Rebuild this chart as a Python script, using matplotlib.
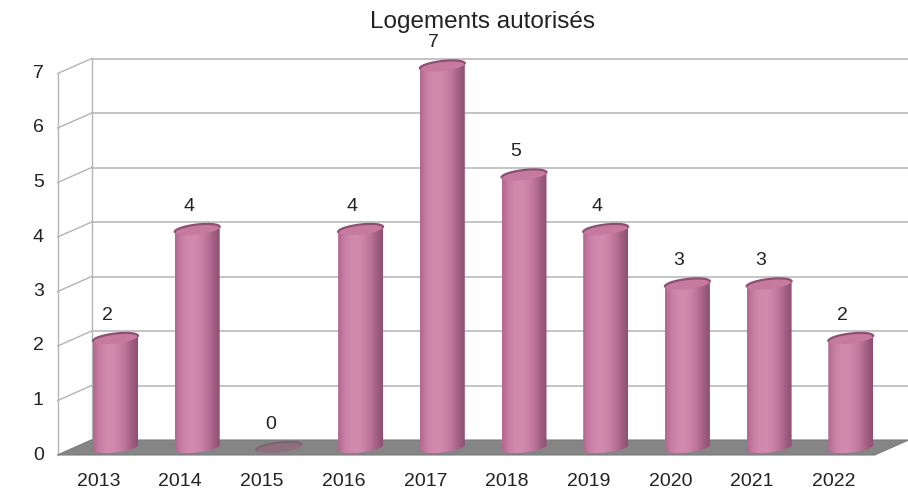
# Logements autorisés - pseudo 3D cylinder bars (LibreOffice style)
import matplotlib
matplotlib.use("Agg")
import matplotlib.pyplot as plt
import numpy as np
from matplotlib.colors import LinearSegmentedColormap
from matplotlib.patches import Polygon

years = ['2013', '2014', '2015', '2016', '2017', '2018', '2019', '2020', '2021', '2022']
logements = [2, 4, 0, 4, 7, 5, 4, 3, 3, 2]
yticks = [0, 1, 2, 3, 4, 5, 6, 7]
title = "Logements autorisés"

plt.rcParams['font.family'] = ['Liberation Sans', 'DejaVu Sans']

# pixel layout -> data units (1 category = 81.7 px, 1 unit = 54.5 px)
px_cat = 81.7
px_val = 54.5
x0_px = 98.5     # front centre of first category
y0_px = 455.0    # front floor line
DX = 34 / px_cat   # depth offset of back wall
DY = 15 / px_val
bar_w = 45 / px_cat
cap_h = 5 / px_val
cap_tilt = 2.5 / px_val
fs = 14

fig = plt.figure(figsize=(9.08, 4.91), dpi=100)
ax = fig.add_axes([0, 0, 1, 1])
ax.set_xlim(-x0_px / px_cat, (908 - x0_px) / px_cat)
ax.set_ylim((y0_px - 491) / px_val, y0_px / px_val)
ax.axis('off')

n = len(years)
left, right = -0.5, n - 0.5
grid_col = '#b4b4b4'

# back wall + side wall lines
for k in yticks:
    if k > 0:
        ax.plot([left + DX, right + DX], [k + DY, k + DY], color=grid_col, lw=1.1, zorder=1)
    ax.plot([left, left + DX], [k, k + DY], color=grid_col, lw=1.0, zorder=1)
ax.plot([left, left], [0, max(yticks)], color=grid_col, lw=1.0, zorder=1)
ax.plot([left + DX, left + DX], [DY, max(yticks) + DY], color=grid_col, lw=1.0, zorder=1)
ax.plot([right + DX, right + DX], [DY, max(yticks) + DY], color='#dddddd', lw=1.0, zorder=1)

# floor
floor = Polygon([(left, 0), (right, 0), (right + DX, DY), (left + DX, DY)],
                closed=True, facecolor='#858585', edgecolor='#7c7c7c', lw=0.8, zorder=2)
ax.add_patch(floor)

cyl_cmap = LinearSegmentedColormap.from_list(
    'cyl', ['#b4668e', '#c87ea4', '#d088ad', '#d28aae', '#cc82a8', '#bd749a', '#a36084', '#8c5070'])
grad = np.linspace(0, 1, 200).reshape(1, -1)
t = np.linspace(0, 2 * np.pi, 120)
tb = np.linspace(np.pi, 2 * np.pi, 60)
tt = np.linspace(0, np.pi, 60)

for i, v in enumerate(logements):
    cx = i + DX / 2
    base = DY / 2
    top = v + DY / 2
    hw = bar_w / 2
    if v > 0:
        # body outline: bottom half ellipse then straight up to the top
        bx = cx + hw * np.cos(tb)
        by = base + cap_h * np.sin(tb) + cap_tilt * np.cos(tb)
        verts = list(zip(bx, by)) + [(cx + hw, top + cap_tilt), (cx - hw, top - cap_tilt)]
        body = Polygon(verts, closed=True, facecolor='none', edgecolor='none')
        ax.add_patch(body)
        im = ax.imshow(grad, cmap=cyl_cmap, aspect='auto', interpolation='bilinear',
                       extent=(cx - hw, cx + hw, base - cap_h - 0.1, top + 0.1), zorder=3)
        im.set_clip_path(body)
    # top cap
    ex = cx + hw * np.cos(t)
    ey = top + cap_h * np.sin(t) + cap_tilt * np.cos(t)
    cap_col = '#c67aa0' if v > 0 else '#8f6f7e'
    ax.add_patch(Polygon(list(zip(ex, ey)), closed=True, facecolor=cap_col,
                         edgecolor='none', zorder=4))
    # darker back rim of the cap
    rx = cx + hw * np.cos(tt)
    ry = top + cap_h * np.sin(tt) + cap_tilt * np.cos(tt)
    ax.plot(rx, ry, color='#8e5070' if v > 0 else '#7a6570', lw=1.6, zorder=4,
            solid_capstyle='round')
    # value label
    ax.text(i + DX / 4, top + 0.43, str(v), ha='center', va='center',
            fontsize=fs, color='#222222', zorder=5)
    # category label
    ax.text(i, (y0_px - 481) / px_val, years[i], ha='center', va='center',
            fontsize=fs, color='#222222')

for k in yticks:
    ax.text(left - 0.17, k, str(k), ha='right', va='center', fontsize=fs, color='#222222')

ax.text((483 - x0_px) / px_cat, (y0_px - 22) / px_val, title, ha='center', va='center',
        fontsize=17.5, color='#222222')

fig.savefig('out.png', dpi=100)
